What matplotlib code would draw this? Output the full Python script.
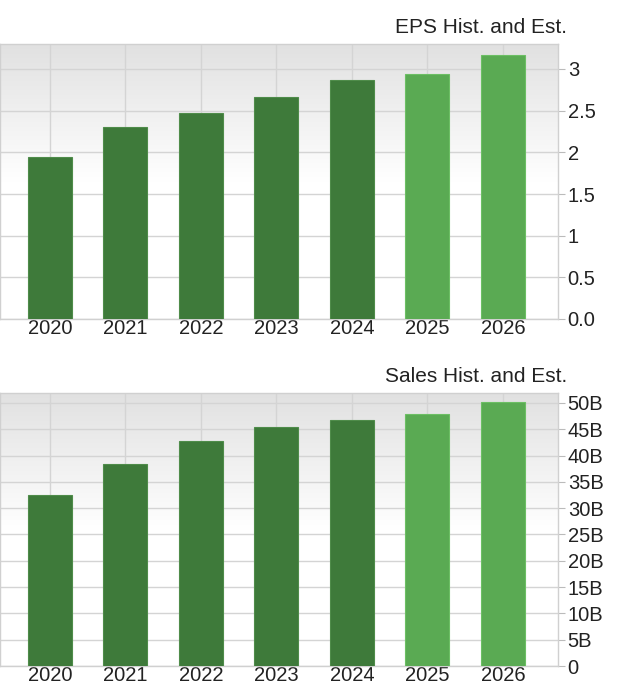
import matplotlib.pyplot as plt
import numpy as np

plt.rcParams['font.family'] = ['Liberation Sans', 'DejaVu Sans']

# Data
years = ['2020', '2021', '2022', '2023', '2024', '2025', '2026']
eps = [1.94, 2.30, 2.47, 2.67, 2.87, 2.94, 3.17]
sales_b = [32.6, 38.4, 42.7, 45.4, 46.8, 47.9, 50.2]
is_estimate = [False, False, False, False, False, True, True]

eps_ticks = [0, 0.5, 1, 1.5, 2, 2.5, 3]
eps_labels = ['0.0', '0.5', '1', '1.5', '2', '2.5', '3']
sales_ticks = [0, 5, 10, 15, 20, 25, 30, 35, 40, 45, 50]
sales_labels = ['0'] + [f'{t}B' for t in sales_ticks[1:]]

HIST = '#3e7a3a'
EST = '#5aaa53'
GRID = '#d4d4d4'
FS = 14.5


def draw_panel(ax, values, ymax, ticks, labels, title):
    x = np.arange(len(values))
    xlim = (-0.66, len(values) - 1 + 0.73)
    # grey-to-white gradient background
    grad = np.linspace(0, 1, 256).reshape(-1, 1)
    grad = np.clip(grad / 0.5, 0, 1)
    ax.imshow(grad, extent=(xlim[0], xlim[1], 0, ymax), origin='upper',
              cmap=plt.matplotlib.colors.LinearSegmentedColormap.from_list(
                  'bg', ['#e1e1e1', '#ffffff']),
              aspect='auto', zorder=0, vmin=0, vmax=1)
    colors = [EST if e else HIST for e in is_estimate]
    edges = ['#6cbf64' if e else '#4f8c4a' for e in is_estimate]
    ax.bar(x, values, width=0.58, color=colors, edgecolor=edges,
           linewidth=0.8, zorder=3)
    ax.set_xlim(*xlim)
    ax.set_ylim(0, ymax)
    ax.set_xticks(x)
    ax.set_xticklabels(years, fontsize=FS, color='#222222')
    ax.set_yticks(ticks)
    ax.set_yticklabels(labels, fontsize=FS, color='#222222')
    ax.yaxis.tick_right()
    ax.grid(True, color=GRID, linewidth=1, zorder=1)
    ax.set_axisbelow(True)
    ax.tick_params(axis='x', length=0, pad=0)
    ax.tick_params(axis='y', length=5, width=0.8, color='#bbbbbb', pad=2)
    for s in ax.spines.values():
        s.set_color('#d0d0d0')
        s.set_linewidth(1)
    ax.text(1.016, 1.0 + 7 / 275, title, transform=ax.transAxes, ha='right',
            va='bottom', fontsize=15, color='#222222')


fig = plt.figure(figsize=(6.2, 6.91), dpi=100)
ax1 = fig.add_axes([0.0, 1 - 319 / 691, 558 / 620, (319 - 44) / 691])
ax2 = fig.add_axes([0.0, 1 - 666 / 691, 558 / 620, (666 - 393) / 691])

draw_panel(ax1, eps, 3.3, eps_ticks, eps_labels, 'EPS Hist. and Est.')
draw_panel(ax2, sales_b, 51.9, sales_ticks, sales_labels, 'Sales Hist. and Est.')

fig.savefig('out.png', dpi=100)
